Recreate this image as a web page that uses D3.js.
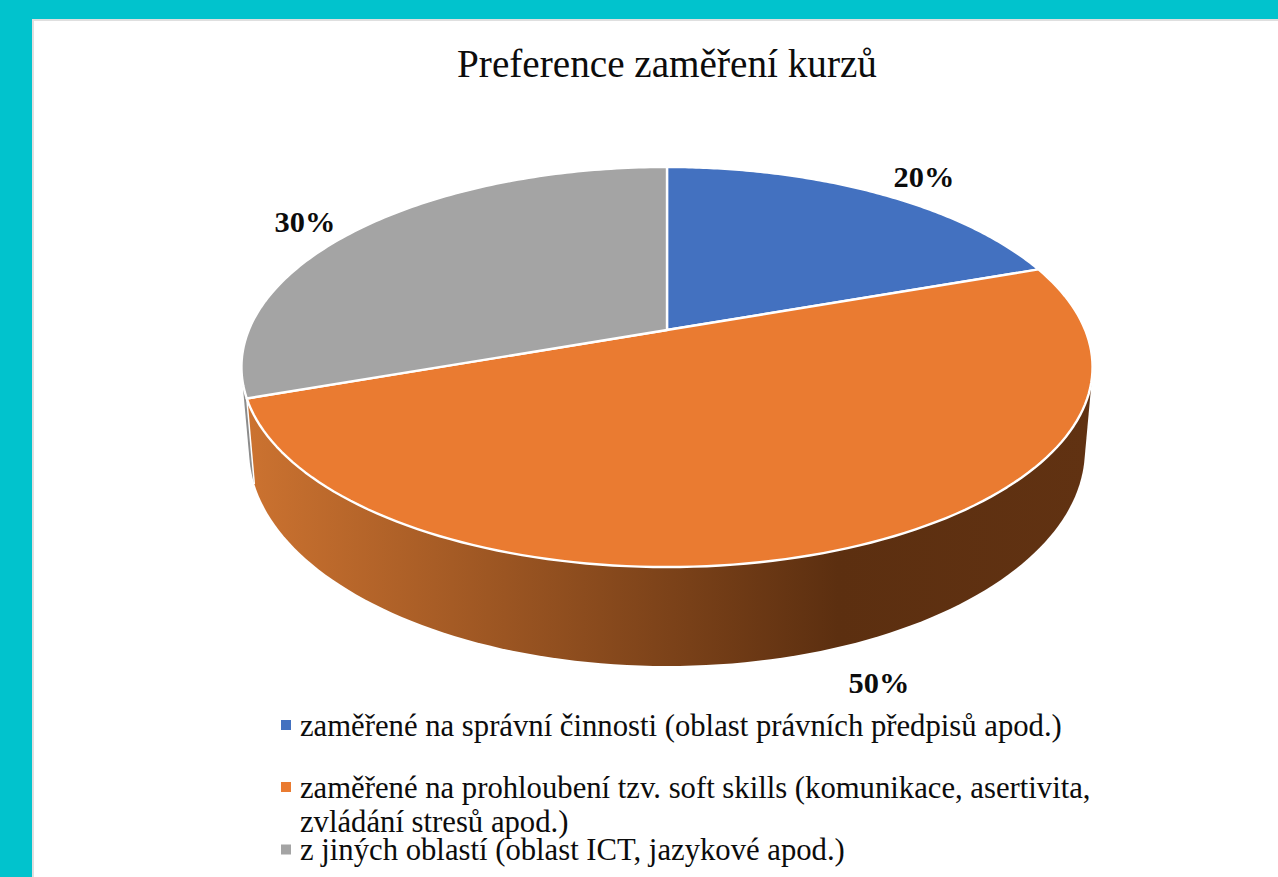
<!DOCTYPE html>
<html>
<head>
<meta charset="utf-8">
<script src="https://d3js.org/d3.v7.min.js"></script>
<style>
  html, body { margin: 0; padding: 0; background: #01c3cd; overflow: hidden; }
  text { font-family: "Liberation Serif", serif; fill: #0c0c0c; }
</style>
</head>
<body>
<svg id="chart" width="1278" height="877"></svg>
<script>
const title = 'Preference zaměření kurzů';
const categories = [
  ['zaměřené na správní činnosti (oblast právních předpisů apod.)'],
  ['zaměřené na prohloubení tzv. soft skills (komunikace, asertivita,', 'zvládání stresů apod.)'],
  ['z jiných oblastí (oblast ICT, jazykové apod.)']
];
const shares = [0.196, 0.5, 0.304];
const shownLabels = ['20%', '50%', '30%'];
const sliceColors = ['#4371c0', '#ea7b31', '#a4a4a4'];
const legendBaselines = [[735.5], [797.5, 832], [860]];
const labelPositions = [[924, 187], [879, 693], [305, 232]];

const svg = d3.select('#chart');

// page frame
svg.append('rect').attr('width', 1278).attr('height', 877).attr('fill', '#01c3cd');
svg.append('rect').attr('x', 32).attr('y', 19).attr('width', 1246).attr('height', 858).attr('fill', '#dfdfdf');
svg.append('rect').attr('x', 34).attr('y', 21).attr('width', 1244).attr('height', 856).attr('fill', '#fff');

svg.append('text')
  .attr('x', 667).attr('y', 77)
  .attr('text-anchor', 'middle')
  .attr('font-size', 39.2)
  .text(title);

// perspective projection of the pie disc (v grows towards the viewer)
const k = 0.185;
const project = (angle, sx, sy, cy) => {
  const u = Math.sin(angle), v = -Math.cos(angle), w = 1 - k * v;
  return [667 + 418.2 * sx * u / w, cy + 193.2 * sy * v / w];
};
const topRim = a => project(a, 1, 1, 330);
const bottomRim = a => project(a, 0.982, 1.08, 410);

const slices = d3.pie().sort(null).value(d => d)(shares);
const line = d3.line();
const arcSteps = d => d3.range(0, 121).map(i => d.startAngle + (d.endAngle - d.startAngle) * i / 120);

const defs = svg.append('defs');
const wallGradient = defs.append('linearGradient')
  .attr('id', 'wallGradient')
  .attr('gradientUnits', 'userSpaceOnUse')
  .attr('x1', 250).attr('y1', 0).attr('x2', 1090).attr('y2', 0);
wallGradient.append('stop').attr('offset', '0%').attr('stop-color', '#cb7230');
wallGradient.append('stop').attr('offset', '70%').attr('stop-color', '#5c2f10');
wallGradient.append('stop').attr('offset', '100%').attr('stop-color', '#613212');

// side walls first, gray behind orange. The hull also fills the silhouette
// between the two rims; the part above the rim is hidden by the top faces.
const wallFill = [null, 'url(#wallGradient)', '#8c8c8c'];
[2, 1].forEach(i => {
  const steps = arcSteps(slices[i]);
  const hull = d3.polygonHull(steps.map(topRim).concat(steps.map(bottomRim)));
  svg.append('path')
    .attr('d', line(hull) + 'Z')
    .attr('fill', wallFill[i]);
});

// white seam where the orange wall meets the gray one
const seam = slices[1].endAngle;
svg.append('path')
  .attr('d', line([topRim(seam), bottomRim(seam)]))
  .attr('stroke', '#fff')
  .attr('stroke-width', 1.5)
  .attr('fill', 'none');

// top faces
slices.forEach((d, i) => {
  svg.append('path')
    .attr('d', line([[667, 330]].concat(arcSteps(d).map(topRim))) + 'Z')
    .attr('fill', sliceColors[i])
    .attr('stroke', '#fff')
    .attr('stroke-width', 2.4)
    .attr('stroke-linejoin', 'round');
});

// data labels
shownLabels.forEach((t, i) => {
  svg.append('text')
    .attr('x', labelPositions[i][0]).attr('y', labelPositions[i][1])
    .attr('text-anchor', 'middle')
    .attr('font-size', 30.4)
    .attr('font-weight', 700)
    .text(t);
});

// legend
categories.forEach((lines, i) => {
  svg.append('rect')
    .attr('x', 281).attr('y', legendBaselines[i][0] - 15.5)
    .attr('width', 10).attr('height', 10)
    .attr('fill', sliceColors[i]);
  lines.forEach((t, j) => {
    svg.append('text')
      .attr('x', 300).attr('y', legendBaselines[i][j])
      .attr('font-size', 30.7)
      .text(t);
  });
});
</script>
</body>
</html>
